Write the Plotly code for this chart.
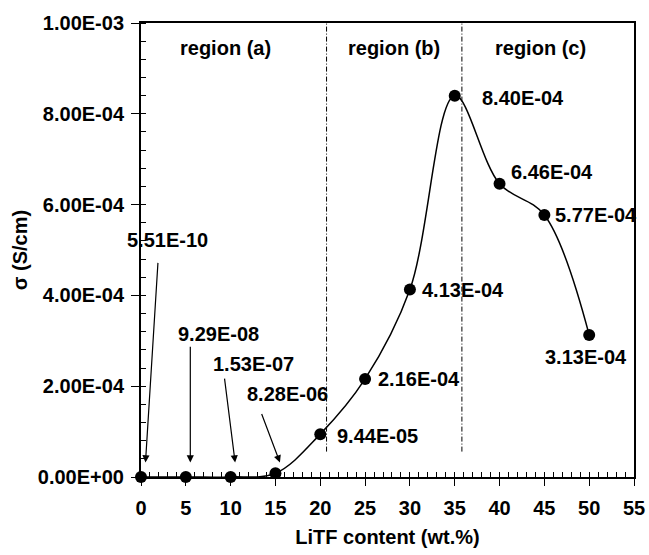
import plotly.graph_objects as go

# ---- data ----
litf_content = [0, 5, 10, 15, 20, 25, 30, 35, 40, 45, 50]
sigma = [5.51e-10, 9.29e-08, 1.53e-07, 8.28e-06, 9.44e-05, 2.16e-04,
         4.13e-04, 8.40e-04, 6.46e-04, 5.77e-04, 3.13e-04]
point_labels = ["5.51E-10", "9.29E-08", "1.53E-07", "8.28E-06", "9.44E-05",
                "2.16E-04", "4.13E-04", "8.40E-04", "6.46E-04", "5.77E-04",
                "3.13E-04"]
y_tickvals = [0, 2e-4, 4e-4, 6e-4, 8e-4, 1e-3]
y_ticktext = ["0.00E+00", "2.00E-04", "4.00E-04", "6.00E-04", "8.00E-04", "1.00E-03"]
x_tickvals = [0, 5, 10, 15, 20, 25, 30, 35, 40, 45, 50, 55]
region_bounds = [20.7, 35.8]
region_names = ["region (a)", "region (b)", "region (c)"]
region_centers = [9.4, 28.2, 44.6]

FONT = "Liberation Sans, Arial, sans-serif"

fig = go.Figure()
fig.add_trace(go.Scatter(
    x=litf_content, y=sigma, mode="lines+markers",
    line=dict(shape="spline", smoothing=1.0, color="black", width=1.5),
    marker=dict(size=12, color="black"),
    cliponaxis=False, showlegend=False,
))

# small values: text with arrows pointing down to the points
arrow_text_pos = [(3.0, 5.22e-4), (8.7, 3.15e-4), (12.5, 2.49e-4), (16.3, 1.83e-4)]
arrow_tail = [(1.9, 4.75e-4), (5.5, 2.9e-4), (9.3, 2.2e-4), (13.4, 1.42e-4)]
annotations = []
for i in range(4):
    tx, ty = arrow_text_pos[i]
    ax, ay = arrow_tail[i]
    annotations.append(dict(
        x=tx, y=ty, xref="x", yref="y", text=point_labels[i], showarrow=False,
        font=dict(family=FONT, size=20, color="black", weight="bold")))
    annotations.append(dict(
        x=litf_content[i] + 0.5, y=3.2e-5, xref="x", yref="y",
        ax=ax, ay=ay, axref="x", ayref="y", text="", showarrow=True,
        arrowhead=2, arrowsize=1.2, arrowwidth=1.2, arrowcolor="black"))

label_offsets = {4: (1.65, -0.04e-4, "left"), 5: (1.2, 0, "left"), 6: (1.1, 0, "left"),
                 7: (2.8, -0.05e-4, "left"), 8: (1.1, 0.26e-4, "left"),
                 9: (1.0, 0.0, "left"), 10: (-0.3, -0.49e-4, "center")}
for i, (dx, dy, anchor) in label_offsets.items():
    annotations.append(dict(
        x=litf_content[i] + dx, y=sigma[i] + dy, xref="x", yref="y",
        text=point_labels[i], showarrow=False, xanchor=anchor,
        font=dict(family=FONT, size=20, color="black", weight="bold")))

for name, cx in zip(region_names, region_centers):
    annotations.append(dict(
        x=cx, y=9.45e-4, xref="x", yref="y", text=name, showarrow=False,
        font=dict(family=FONT, size=20, color="black", weight="bold")))

shapes = []
for b in region_bounds:
    shapes.append(dict(type="line", xref="x", yref="y", x0=b, x1=b,
                       y0=5.6e-5, y1=1e-3,
                       line=dict(color="black", width=1, dash="5px,2px,1px,2px")))

axis_font = dict(family=FONT, size=20, color="black", weight="bold")
fig.update_layout(
    width=649, height=555,
    margin=dict(l=141, r=15, t=23, b=78),
    plot_bgcolor="white", paper_bgcolor="white",
    font=dict(family=FONT, color="black"),
    annotations=annotations, shapes=shapes,
    xaxis=dict(
        range=[0, 55], tickvals=x_tickvals, ticks="outside", ticklen=7,
        tickwidth=1.3, tickcolor="black", showgrid=False, zeroline=False,
        showline=True, linecolor="black", linewidth=2, mirror=True,
        tickfont=axis_font, ticklabelstandoff=5, automargin=False,
        minor=dict(dtick=1, ticks="inside", ticklen=5, tickcolor="black",
                   tickwidth=1, showgrid=False),
        title=dict(text="LiTF content (wt.%)", font=axis_font, standoff=12),
    ),
    yaxis=dict(
        range=[0, 1e-3], tickvals=y_tickvals, ticktext=y_ticktext,
        ticks="outside", ticklen=8, tickwidth=1.3, tickcolor="black",
        showgrid=False, zeroline=False, automargin=False,
        showline=True, linecolor="black", linewidth=2, mirror=True,
        tickfont=axis_font, ticklabelstandoff=3,
        minor=dict(dtick=4e-5, ticks="inside", ticklen=5, tickcolor="black",
                   tickwidth=1, showgrid=False),
        title=dict(text="σ (S/cm)", font=axis_font, standoff=5),
    ),
)

fig.write_html("out.html")
